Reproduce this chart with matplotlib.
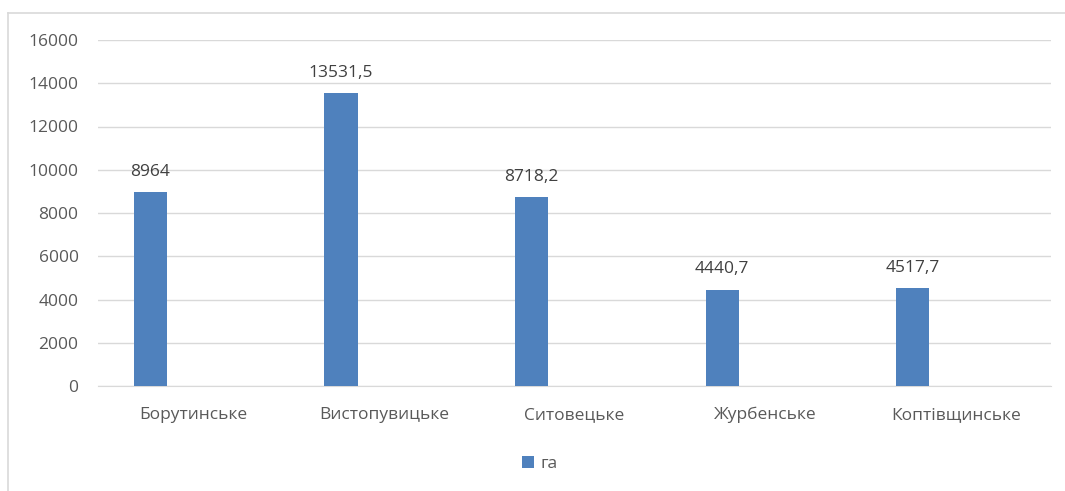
import matplotlib.pyplot as plt
from matplotlib.lines import Line2D
import numpy as np

# data
categories = ['Борутинське', 'Вистопувицьке', 'Ситовецьке', 'Журбенське', 'Коптівщинське']
values = [8964, 13531.5, 8718.2, 4440.7, 4517.7]
value_labels = ['8964', '13531,5', '8718,2', '4440,7', '4517,7']
series_name = 'га'

plt.rcParams['font.family'] = ['Open Sans', 'DejaVu Sans']
text_color = '#595959'
bar_color = '#4F81BD'
fs = 12.5

fig = plt.figure(figsize=(10.65, 4.91), dpi=100)
ax = fig.add_axes([98 / 1065, 1 - 386 / 491, (1051 - 98) / 1065, (386 - 40) / 491])

x = np.arange(len(categories))
bars = ax.bar(x - 0.225, values, width=0.175, color=bar_color, label=series_name, zorder=3)

for xi, v, lab in zip(x, values, value_labels):
    ax.annotate(lab, (xi - 0.225, v), xytext=(0, 9), textcoords='offset points',
                ha='center', va='bottom', fontsize=fs, color='#404040')

ax.set_xlim(-0.5, len(categories) - 0.5)
ax.set_ylim(0, 16000)
ax.set_yticks(range(0, 16001, 2000))
ax.set_xticks(x)
ax.set_xticklabels(categories)
ax.grid(axis='y', color='#D9D9D9', linewidth=1, zorder=0)
for s in ['top', 'right', 'left']:
    ax.spines[s].set_visible(False)
ax.spines['bottom'].set_color('#D9D9D9')
ax.tick_params(axis='both', length=0, labelsize=fs, labelcolor=text_color)
ax.tick_params(axis='y', pad=14)
ax.tick_params(axis='x', pad=15)

fig.legend(handles=[bars], labels=[series_name], loc='center', bbox_to_anchor=(540 / 1065, 1 - 464 / 491),
           frameon=False, fontsize=fs, handlelength=0.65, handleheight=0.65, handletextpad=0.4,
           labelcolor=text_color)

# chart area border (cropped on the right and bottom in the reference)
fig.add_artist(Line2D([8 / 1065, 1.0], [1 - 13 / 491] * 2, color='#D9D9D9', linewidth=1.2))
fig.add_artist(Line2D([8 / 1065] * 2, [0.0, 1 - 13 / 491], color='#D9D9D9', linewidth=1.2))

fig.savefig('out.png', dpi=100)
